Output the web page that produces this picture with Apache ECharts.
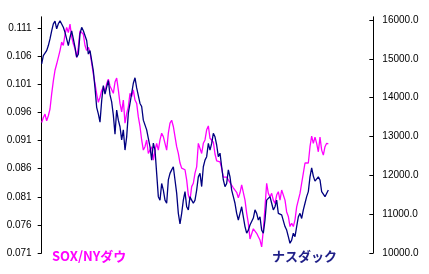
<!DOCTYPE html>
<html>
<head>
<meta charset="utf-8">
<script src="https://cdn.jsdelivr.net/npm/echarts@6/dist/echarts.min.js"></script>
<style>html,body{margin:0;padding:0;background:#fff;}#c{width:429px;height:274px;}</style>
</head>
<body>
<div id="c"></div>
<script>
const days = Array.from({length: 200}, (_, i) => String(i + 1));
const leftTicks = [0.071, 0.076, 0.081, 0.086, 0.091, 0.096, 0.101, 0.106, 0.111];
const rightTicks = [10000, 11000, 12000, 13000, 14000, 15000, 16000];
const soxDow = [
0.0942,0.0951,0.0957,0.0945,0.0954,0.0966,0.0993,0.1016,0.1035,0.1046,
0.1058,0.1070,0.1085,0.1079,0.1099,0.1111,0.1102,0.1117,0.1094,0.1082,
0.1073,0.1058,0.1076,0.1105,0.1108,0.1099,0.1079,0.1070,0.1076,0.1067,
0.1064,0.1028,0.1011,0.0993,0.0978,0.0987,0.0999,0.1005,0.0996,0.1011,
0.1019,0.1007,0.1007,0.0994,0.1014,0.1021,0.1000,0.0976,0.0961,0.0982,
0.0941,0.0958,0.0970,0.0994,0.0988,0.1000,0.0982,0.0976,0.0952,0.0935,
0.0911,0.0893,0.0899,0.0911,0.0887,0.0893,0.0899,0.0875,0.0893,0.0905,
0.0893,0.0911,0.0923,0.0917,0.0905,0.0893,0.0923,0.0941,0.0946,0.0935,
0.0917,0.0899,0.0887,0.0870,0.0861,0.0861,0.0858,0.0840,0.0813,0.0804,
0.0828,0.0834,0.0852,0.0863,0.0905,0.0908,0.0887,0.0905,0.0911,0.0929,
0.0936,0.0914,0.0913,0.0907,0.0886,0.0874,0.0874,0.0872,0.0861,0.0845,
0.0842,0.0845,0.0842,0.0835,0.0832,0.0826,0.0823,0.0818,0.0808,0.0817,
0.0831,0.0831,0.0804,0.0781,0.0763,0.0735,0.0738,0.0753,0.0751,0.0745,
0.0739,0.0733,0.0721,0.0751,0.0792,0.0834,0.0816,0.0810,0.0816,0.0804,
0.0798,0.0813,0.0819,0.0804,0.0822,0.0825,0.0804,0.0783,0.0775,0.0757,
0.0763,0.0757,0.0769,0.0792,0.0804,0.0816,0.0834,0.0852,0.0870,0.0872,
0.0870,0.0899,0.0918,0.0905,0.0916,0.0905,0.0890,0.0916,0.0893,0.0884,
0.0899,0.0905,0.0904
];
const nasdaq = [
14870,15080,15120,15210,15340,15510,15720,15900,15970,15770,
15900,15980,16030,15810,15680,15640,15340,15550,15720,15510,
15300,15040,15120,15640,15810,15720,15770,15470,15120,15210,
14950,14690,14250,13750,13580,13370,13920,14310,14090,14270,
14440,14070,13890,13550,13060,13680,13420,13250,12910,13170,
12650,12990,13600,13850,14110,14370,14510,14250,14200,13850,
13770,13420,13470,13170,12950,12740,12390,12830,12650,12050,
11450,11360,11790,11620,11360,11280,11880,12050,12140,12220,
11880,11540,11020,10750,11020,11360,11580,11190,11110,11450,
11360,11280,11360,11620,11960,12050,11710,12220,12390,12480,
12820,12650,12820,13080,12990,12780,12480,12570,12220,11880,
11710,11790,12140,11960,11620,11450,11280,11020,10850,11020,
11190,10930,10680,10510,10590,10720,10750,10900,11110,11020,
10850,10930,10590,10510,10850,11360,11320,11450,11280,11110,
11190,11360,11020,11060,10980,10930,10680,10590,10420,10250,
10330,10510,10420,10680,10930,11020,10890,11110,11280,11450,
11580,11960,12190,11980,11850,11830,11960,11880,11580,11540,
11450,11410,11620
];
const soxLabel = 'SOX/NYダウ';
const nasdaqLabel = 'ナスダック';

const chart = echarts.init(document.getElementById('c'), null, {renderer: 'canvas'});
const labelFont = {fontSize: 10, fontFamily: 'Liberation Sans, Arial, sans-serif', color: '#000'};
chart.setOption({
  animation: false,
  backgroundColor: '#fff',
  grid: {left: 41.67, right: 55.67, top: 16.8, bottom: 21, containLabel: false},
  xAxis: {
    type: 'category', data: days, boundaryGap: false, show: false
  },
  yAxis: [
    {
      type: 'value', position: 'left', min: 0.071, max: 0.113,
      axisLine: {show: true, lineStyle: {color: '#000', width: 1}},
      axisTick: {show: true, inside: false, length: 4, customValues: leftTicks, lineStyle: {color: '#000'}},
      axisLabel: Object.assign({customValues: leftTicks, margin: 10, formatter: v => v.toFixed(3)}, labelFont),
      splitLine: {show: false}
    },
    {
      type: 'value', position: 'right', min: 10000, max: 16080,
      axisLine: {show: true, lineStyle: {color: '#000', width: 1}},
      axisTick: {show: true, inside: true, length: 4, customValues: rightTicks, lineStyle: {color: '#000'}},
      axisLabel: Object.assign({customValues: rightTicks, margin: 9, formatter: v => v.toFixed(1)}, labelFont),
      splitLine: {show: false}
    }
  ],
  series: [
    {
      name: soxLabel, type: 'line', yAxisIndex: 0, data: soxDow, showSymbol: false, symbol: 'none',
      lineStyle: {color: '#ff00ff', width: 1.3}, itemStyle: {color: '#ff00ff'}
    },
    {
      name: nasdaqLabel, type: 'line', yAxisIndex: 1, data: nasdaq, showSymbol: false, symbol: 'none',
      lineStyle: {color: '#000080', width: 1.3}, itemStyle: {color: '#000080'}
    }
  ],
  graphic: [
    {type: 'text', left: 52, top: 250, style: {text: soxLabel, fill: '#ff00ff', font: 'bold 13px "Noto Sans CJK JP", sans-serif'}},
    {type: 'text', left: 272, top: 250, style: {text: nasdaqLabel, fill: '#202088', font: 'bold 13px "Noto Sans CJK JP", sans-serif'}}
  ]
});
</script>
</body>
</html>
